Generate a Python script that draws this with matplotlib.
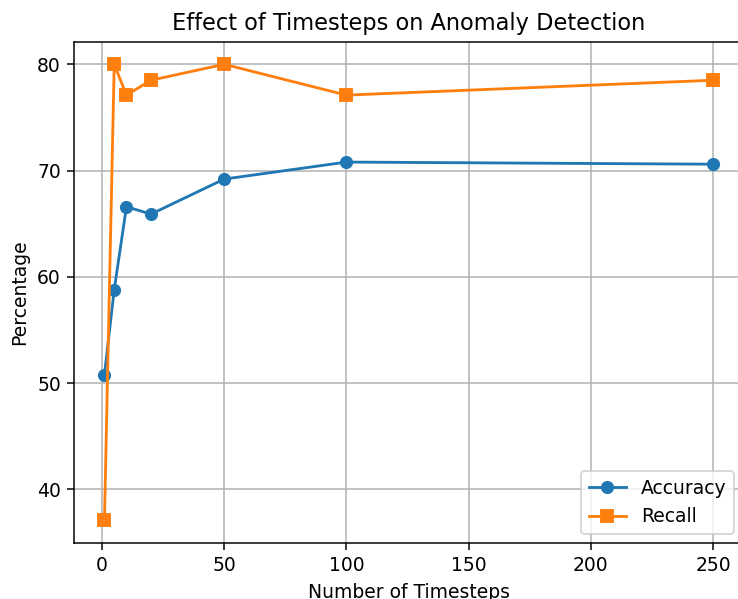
import matplotlib
matplotlib.use("Agg")
import matplotlib.pyplot as plt

# Data
timesteps = [1, 5, 10, 20, 50, 100, 250]
accuracy = [50.8, 58.8, 66.6, 65.9, 69.2, 70.8, 70.6]
recall = [37.1, 80.0, 77.1, 78.5, 80.0, 77.1, 78.5]

DPI = 135
fig, ax = plt.subplots(figsize=(738 / DPI, 599 / DPI), dpi=DPI)
# the reference is cropped: right spine falls just outside the image
fig.subplots_adjust(left=0.1003, right=1.0075, top=0.9307, bottom=0.0935)

ax.plot(timesteps, accuracy, marker='o', label='Accuracy')
ax.plot(timesteps, recall, marker='s', label='Recall')

ax.set_title('Effect of Timesteps on Anomaly Detection')
ax.set_xlabel('Number of Timesteps')
ax.set_ylabel('Percentage')
ax.legend(loc='lower right')
ax.grid(True)

plt.savefig('out.png', dpi=DPI)
